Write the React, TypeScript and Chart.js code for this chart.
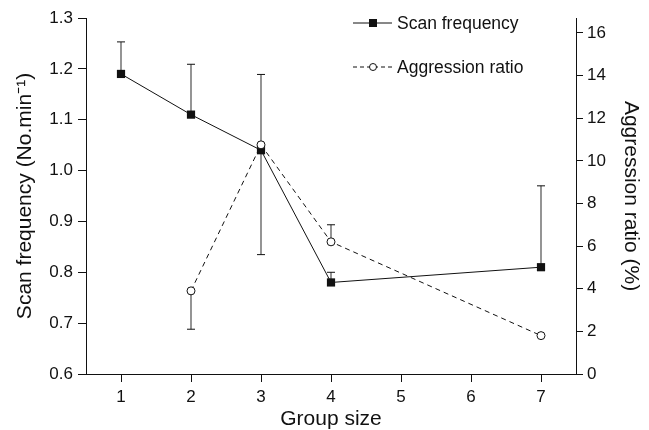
import React, { useEffect, useRef } from "react";
import { Chart, registerables } from "chart.js";

Chart.register(...registerables);

const groupSizes = [1, 2, 3, 4, 7];
const scanFreq = [1.19, 1.11, 1.04, 0.78, 0.81];
const scanUpper = [1.253, 1.209, 1.189, 0.8, 0.97];

const aggrGroupSizes = [2, 3, 4, 7];
const aggrRatio = [3.9, 10.75, 6.2, 1.8];
const aggrLower: (number | null)[] = [2.1, 5.6, null, null];
const aggrUpper: (number | null)[] = [null, null, 7.0, null];

const xTicks = [1, 2, 3, 4, 5, 6, 7];
const leftTicks = [0.6, 0.7, 0.8, 0.9, 1.0, 1.1, 1.2, 1.3];
const rightTicks = [0, 2, 4, 6, 8, 10, 12, 14, 16];

const FONT = "'Liberation Sans', Arial, Helvetica, sans-serif";

const errorBarPlugin = {
  id: "errorBars",
  beforeDatasetsDraw(chart: any) {
    const { ctx, scales } = chart;
    const xs = scales.x;
    const drawBar = (x: number, y0: number, y1: number) => {
      const px = xs.getPixelForValue(x);
      ctx.save();
      ctx.strokeStyle = "#7a7a7a";
      ctx.lineWidth = 1.6;
      ctx.beginPath();
      ctx.moveTo(px, y0);
      ctx.lineTo(px, y1);
      ctx.stroke();
      ctx.strokeStyle = "#111";
      ctx.lineWidth = 1;
      ctx.beginPath();
      ctx.moveTo(px - 4, y1);
      ctx.lineTo(px + 4, y1);
      ctx.stroke();
      ctx.restore();
    };
    groupSizes.forEach((g, i) => {
      const u = scanUpper[i];
      if (u != null) drawBar(g, scales.y.getPixelForValue(scanFreq[i]), scales.y.getPixelForValue(u));
    });
    aggrGroupSizes.forEach((g, i) => {
      const lo = aggrLower[i];
      const hi = aggrUpper[i];
      const c = scales.y1.getPixelForValue(aggrRatio[i]);
      if (lo != null) drawBar(g, c, scales.y1.getPixelForValue(lo));
      if (hi != null) drawBar(g, c, scales.y1.getPixelForValue(hi));
    });
  },
};

const legendPlugin = {
  id: "customLegend",
  afterDraw(chart: any) {
    const { ctx } = chart;
    const items = [
      { label: "Scan frequency", y: 23, dash: [] as number[], square: true },
      { label: "Aggression ratio", y: 67, dash: [4, 3], square: false },
    ];
    ctx.save();
    items.forEach((it) => {
      ctx.strokeStyle = "#111";
      ctx.lineWidth = 1;
      ctx.setLineDash(it.dash);
      ctx.beginPath();
      ctx.moveTo(353, it.y);
      ctx.lineTo(392, it.y);
      ctx.stroke();
      ctx.setLineDash([]);
      if (it.square) {
        ctx.fillStyle = "#111";
        ctx.fillRect(369, it.y - 4, 8, 8);
      } else {
        ctx.fillStyle = "#fff";
        ctx.beginPath();
        ctx.arc(373, it.y, 3.5, 0, Math.PI * 2);
        ctx.fill();
        ctx.stroke();
      }
      ctx.fillStyle = "#111";
      ctx.font = `17.5px ${FONT}`;
      ctx.textBaseline = "middle";
      ctx.textAlign = "left";
      ctx.fillText(it.label, 397, it.y + 1);
    });
    ctx.restore();
  },
};

export default function App() {
  const ref = useRef<HTMLCanvasElement>(null);
  useEffect(() => {
    if (!ref.current) return;
    const chart = new Chart(ref.current, {
      type: "line",
      data: {
        datasets: [
          {
            label: "Scan frequency",
            data: groupSizes.map((g, i) => ({ x: g, y: scanFreq[i] })),
            yAxisID: "y",
            borderColor: "#111",
            borderWidth: 1,
            backgroundColor: "#111",
            pointStyle: "rect",
            pointRadius: 5.8,
            pointBorderWidth: 0,
            pointBackgroundColor: "#111",
            tension: 0,
            order: 2,
          },
          {
            label: "Aggression ratio",
            data: aggrGroupSizes.map((g, i) => ({ x: g, y: aggrRatio[i] })),
            yAxisID: "y1",
            borderColor: "#111",
            borderWidth: 1,
            borderDash: [5, 4],
            pointStyle: "circle",
            pointRadius: 4,
            pointBorderWidth: 1,
            pointBorderColor: "#111",
            pointBackgroundColor: "#fff",
            tension: 0,
            order: 1,
          },
        ],
      },
      options: {
        responsive: false,
        animation: false,
        layout: { padding: { top: 18, left: 0, right: 0, bottom: 0 } },
        plugins: { legend: { display: false }, tooltip: { enabled: false } },
        scales: {
          x: {
            type: "linear",
            min: 0.5,
            max: 7.5,
            afterBuildTicks: (s: any) => {
              s.ticks = xTicks.map((v) => ({ value: v }));
            },
            afterFit: (s: any) => {
              s.height = 56;
            },
            ticks: { color: "#111", font: { size: 17, family: FONT }, padding: 5, callback: (v: any) => String(v) },
            grid: { drawOnChartArea: false, drawTicks: true, tickLength: 8, color: "#111" },
            border: { display: true, color: "#111", width: 1 },
            title: {
              display: true,
              text: "Group size",
              color: "#111",
              font: { size: 21, family: FONT, lineHeight: 1 },
              padding: { top: 0, bottom: 0 },
            },
          },
          y: {
            type: "linear",
            position: "left",
            min: 0.6,
            max: 1.3,
            afterBuildTicks: (s: any) => {
              s.ticks = leftTicks.map((v) => ({ value: v }));
            },
            afterFit: (s: any) => {
              s.width = 86;
            },
            ticks: { color: "#111", font: { size: 17, family: FONT }, padding: 5, callback: (v: any) => Number(v).toFixed(1) },
            grid: { drawOnChartArea: false, drawTicks: true, tickLength: 8, color: "#111" },
            border: { display: true, color: "#111", width: 1 },
            title: {
              display: true,
              text: "Scan frequency (No.min\u207B\u00B9)",
              color: "#111",
              font: { size: 21, family: FONT, lineHeight: 1 },
              padding: { top: 15, bottom: 0 },
            },
          },
          y1: {
            type: "linear",
            position: "right",
            min: 0,
            max: 16.7,
            afterBuildTicks: (s: any) => {
              s.ticks = rightTicks.map((v) => ({ value: v }));
            },
            afterFit: (s: any) => {
              s.width = 73;
            },
            ticks: { color: "#111", font: { size: 17, family: FONT }, padding: 4, callback: (v: any) => String(v) },
            grid: { drawOnChartArea: false, drawTicks: true, tickLength: 7, color: "#111" },
            border: { display: true, color: "#111", width: 1 },
            title: {
              display: true,
              text: "Aggression ratio (%)",
              color: "#111",
              font: { size: 21, family: FONT, lineHeight: 1 },
              padding: { top: 7.5, bottom: 0 },
            },
          },
        },
      } as any,
      plugins: [errorBarPlugin, legendPlugin],
    });
    return () => chart.destroy();
  }, []);
  return (
    <div style={{ position: "fixed", left: 0, top: 0, width: 649, height: 430, background: "#fff" }}>
      <canvas ref={ref} width={649} height={430} />
    </div>
  );
}
